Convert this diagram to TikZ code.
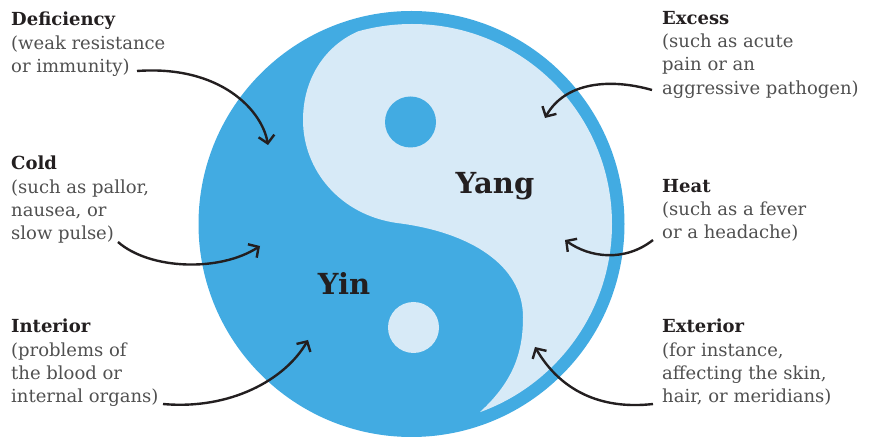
\documentclass[tikz,border=0pt]{standalone}
\usepackage{fontspec}
\setmainfont{DejaVu Serif}
\usetikzlibrary{arrows.meta}
\definecolor{yinblue}{RGB}{66,171,226}
\definecolor{yanglight}{RGB}{215,234,247}
\definecolor{ink}{RGB}{35,31,32}
\definecolor{bodygray}{RGB}{80,80,80}
\begin{document}
\begin{tikzpicture}[x=1pt,y=-1pt,
  lbl/.style={align=left, inner sep=0pt, font=\fontsize{18}{23.3}\selectfont, text=bodygray, anchor=north west},
  conn/.style={draw=ink, line width=2.4pt, -{Straight Barb[length=7.5pt,width=16pt,line width=2.4pt]}},
  big/.style={font=\fontsize{29}{30}\selectfont\bfseries, text=ink, inner sep=0pt}]
\useasboundingbox (0,0) rectangle (871,438);
% yin-yang
\fill[yinblue] (411.5,224) circle (213);
\begin{scope}
  \clip (412,224) circle (200);
  \fill[yanglight] (379,25) .. controls (335,33) and (303,70) .. (303,120)
    .. controls (303,170) and (340,215) .. (397,223)
    .. controls (470,232) and (523,265) .. (523,317)
    .. controls (523,350) and (515,380) .. (480,412)
    -- (480,470) -- (700,470) -- (700,-30) -- (379,-30) -- cycle;
\end{scope}
\fill[yinblue] (410.5,122) circle (25.5);
\fill[yanglight] (413.5,327.5) circle (25.5);
\node[big] (yin) at (344,283) {Yin};
\node[big] (yang) at (495,186) {Yang};
% labels
\node[lbl] (def) at (11,12) {{\bfseries\color{ink}Deficiency}\\(weak resistance\\or immunity)};
\node[lbl] (cold) at (11,156) {{\bfseries\color{ink}Cold}\\(such as pallor,\\nausea, or\\slow pulse)};
\node[lbl] (int) at (11,319) {{\bfseries\color{ink}Interior}\\(problems of\\the blood or\\internal organs)};
\node[lbl] (exc) at (662,11) {{\bfseries\color{ink}Excess}\\(such as acute\\pain or an\\aggressive pathogen)};
\node[lbl] (heat) at (662,179) {{\bfseries\color{ink}Heat}\\(such as a fever\\or a headache)};
\node[lbl] (ext) at (662,319) {{\bfseries\color{ink}Exterior}\\(for instance,\\affecting the skin,\\hair, or meridians)};
% arrow endpoints
\coordinate (defS) at (137,71);   \coordinate (defE) at (268,145);
\coordinate (coldS) at (118,242); \coordinate (coldE) at (260,246);
\coordinate (intS) at (163,404);  \coordinate (intE) at (308,340);
\coordinate (excS) at (652,90);   \coordinate (excE) at (545,118);
\coordinate (heatS) at (653,240); \coordinate (heatE) at (565,240);
\coordinate (extS) at (653,404);  \coordinate (extE) at (535,347);
\draw[conn] (defS) .. controls (220,65) and (262,110) .. (defE);
\draw[conn] (coldS) .. controls (150,270) and (220,272) .. (coldE);
\draw[conn] (intS) .. controls (230,410) and (285,380) .. (intE);
\draw[conn] (excS) .. controls (610,78) and (565,82) .. (excE);
\draw[conn] (heatS) .. controls (625,262) and (590,258) .. (heatE);
\draw[conn] (extS) .. controls (600,410) and (560,390) .. (extE);
\end{tikzpicture}
\end{document}
